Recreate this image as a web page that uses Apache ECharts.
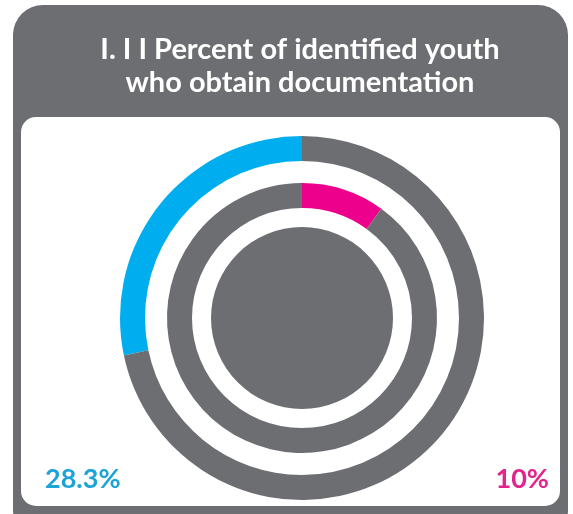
<!DOCTYPE html>
<html>
<head>
<meta charset="utf-8">
<script src="https://cdn.jsdelivr.net/npm/echarts@6/dist/echarts.min.js"></script>
<style>
html,body{margin:0;padding:0;background:#fff;}
#main{width:573px;height:514px;}
</style>
</head>
<body>
<div id="main"></div>
<script>
// Data
const titleLines = ['I. I I Percent of identified youth', 'who obtain documentation'];
const outerCategories = ['Obtained documentation', 'Remaining'];
const outerValues = [28.3, 71.7];
const innerCategories = ['Obtained documentation (target)', 'Remaining'];
const innerValues = [10, 90];

const GRAY = '#6d6e71';
const BLUE = '#00aeef';
const PINK = '#ec008c';

const chart = echarts.init(document.getElementById('main'), null, {renderer: 'canvas'});
const cx = 302, cy = 318;

chart.setOption({
  backgroundColor: '#ffffff',
  animation: false,
  title: {
    text: titleLines.join('\n'),
    left: 295,
    textAlign: 'center',
    top: 28,
    textStyle: {
      color: '#ffffff',
      fontFamily: 'Lato',
      fontWeight: 'bold',
      fontSize: 29,
      lineHeight: 33
    }
  },
  graphic: [
    {type: 'rect', z: -10, silent: true,
     shape: {x: 13, y: 5, width: 555, height: 520, r: [30, 30, 14, 14]},
     style: {fill: GRAY}},
    {type: 'rect', z: -9, silent: true,
     shape: {x: 21, y: 117, width: 539, height: 389, r: 15},
     style: {fill: '#ffffff'}},
    {type: 'text', x: 45, y: 479, z: 10,
     style: {text: outerValues[0] + '%', fill: '#1ba3da', font: 'bold 27px Lato',
             align: 'left', verticalAlign: 'middle'}},
    {type: 'text', x: 549, y: 479, z: 10,
     style: {text: innerValues[0] + '%', fill: '#e2248c', font: 'bold 27px Lato',
             align: 'right', verticalAlign: 'middle'}}
  ],
  series: [
    {
      type: 'pie', silent: true, center: [cx, cy], radius: [157, 182],
      startAngle: 90, clockwise: false,
      label: {show: false}, labelLine: {show: false},
      data: outerCategories.map((n, i) => ({name: n, value: outerValues[i],
        itemStyle: {color: i === 0 ? BLUE : GRAY}}))
    },
    {
      type: 'pie', silent: true, center: [cx, cy], radius: [110, 135],
      startAngle: 90, clockwise: true,
      label: {show: false}, labelLine: {show: false},
      data: innerCategories.map((n, i) => ({name: n, value: innerValues[i],
        itemStyle: {color: i === 0 ? PINK : GRAY}}))
    },
    {
      type: 'pie', silent: true, center: [cx, cy], radius: [0, 91],
      label: {show: false}, labelLine: {show: false},
      data: [{name: 'core', value: 1, itemStyle: {color: GRAY}}]
    }
  ]
});
</script>
</body>
</html>
